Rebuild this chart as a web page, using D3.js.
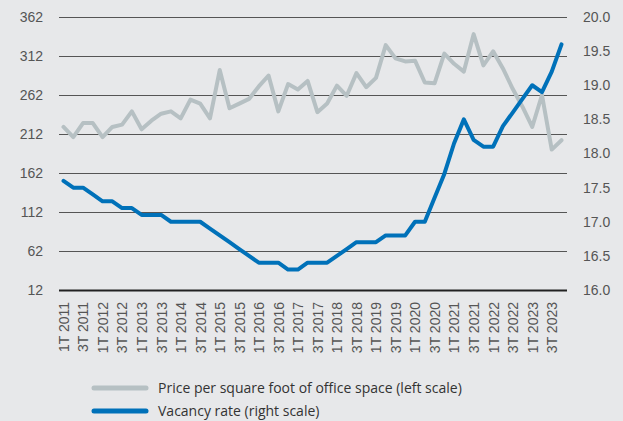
<!DOCTYPE html>
<html>
<head>
<meta charset="utf-8">
<script src="https://cdn.jsdelivr.net/npm/d3@7"></script>
<style>
  body { margin: 0; background: #e7e8ea; }
  svg { display: block; font-family: "Open Sans", sans-serif; }
  .axis text { fill: #555; font-size: 14px; }
  .legend text { fill: #333; font-size: 14px; }
</style>
</head>
<body>
<svg id="chart"></svg>
<script>
const WIDTH = 623;
const HEIGHT = 421;

// quarters 1T 2011 .. 4T 2023
const years = d3.range(2011, 2024);
const quarters = years.flatMap(y => [1, 2, 3, 4].map(q => `${q}T ${y}`));

// price per square foot (left scale)
const price = [
    221, 208, 226, 226, 208, 221, 224, 241, 218, 229, 238, 241, 232,
    256, 251, 232, 294, 245, 251, 257, 273, 287, 241, 276, 269, 280,
    240, 251, 274, 261, 290, 272, 284, 326, 309, 305, 306, 278, 277,
    315, 302, 292, 340, 300, 318, 296, 270, 247, 221, 262, 192, 204
];

// vacancy rate (right scale)
const vacancy = [
    17.6, 17.5, 17.5, 17.4, 17.3, 17.3, 17.2, 17.2, 17.1, 17.1, 17.1, 17.0, 17.0,
    17.0, 17.0, 16.9, 16.8, 16.7, 16.6, 16.5, 16.4, 16.4, 16.4, 16.3, 16.3, 16.4,
    16.4, 16.4, 16.5, 16.6, 16.7, 16.7, 16.7, 16.8, 16.8, 16.8, 17.0, 17.0, 17.35,
    17.7, 18.15, 18.5, 18.2, 18.1, 18.1, 18.4, 18.6, 18.8, 19.0, 18.9, 19.2, 19.6
];

const leftTicks = [12, 62, 112, 162, 212, 262, 312, 362];
const rightTicks = [16.0, 16.5, 17.0, 17.5, 18.0, 18.5, 19.0, 19.5, 20.0];
const xTicks = quarters.filter((d, i) => i % 2 === 0);

const seriesNames = [
    'Price per square foot of office space (left scale)',
    'Vacancy rate (right scale)'
];
const colors = ['#b6c0c3', '#0071b9'];

const margin = { top: 17, right: 56, bottom: 131, left: 59 };
const w = WIDTH - margin.left - margin.right;
const h = HEIGHT - margin.top - margin.bottom;

const svg = d3.select('#chart')
    .attr('width', WIDTH)
    .attr('height', HEIGHT);

const g = svg.append('g')
    .attr('transform', `translate(${margin.left},${margin.top})`);

const x = d3.scalePoint()
    .domain(quarters)
    .range([4.5, w - 5.5]);

const yLeft = d3.scaleLinear()
    .domain([12, 362])
    .range([h, 0]);

const yRight = d3.scaleLinear()
    .domain([16, 20])
    .range([h, 0]);

// gridlines + left labels
const leftAxis = g.append('g')
    .attr('class', 'axis')
    .call(d3.axisLeft(yLeft).tickValues(leftTicks).tickSize(-w).tickPadding(16).tickFormat(d3.format('d')));
leftAxis.select('.domain').remove();
leftAxis.selectAll('line')
    .attr('stroke', '#555')
    .attr('stroke-width', 1);
leftAxis.selectAll('.tick')
    .filter(d => d === 12)
    .select('line')
    .attr('stroke', '#222')
    .attr('stroke-width', 2);

const rightAxis = g.append('g')
    .attr('class', 'axis')
    .attr('transform', `translate(${w},0)`)
    .call(d3.axisRight(yRight).tickValues(rightTicks).tickSize(0).tickPadding(16).tickFormat(d3.format('.1f')));
rightAxis.select('.domain').remove();

const xAxis = g.append('g')
    .attr('class', 'axis')
    .attr('transform', `translate(0,${h})`)
    .call(d3.axisBottom(x).tickValues(xTicks).tickSize(0));
xAxis.select('.domain').remove();
xAxis.selectAll('text')
    .attr('transform', 'rotate(-90)')
    .attr('text-anchor', 'end')
    .attr('x', -12)
    .attr('y', 0)
    .attr('dy', '0.35em');

const lineLeft = d3.line()
    .x((d, i) => x(quarters[i]))
    .y(d => yLeft(d));

const lineRight = d3.line()
    .x((d, i) => x(quarters[i]))
    .y(d => yRight(d));

g.append('path')
    .datum(price)
    .attr('fill', 'none')
    .attr('stroke', colors[0])
    .attr('stroke-width', 4)
    .attr('stroke-linejoin', 'round')
    .attr('stroke-linecap', 'round')
    .attr('d', lineLeft);

g.append('path')
    .datum(vacancy)
    .attr('fill', 'none')
    .attr('stroke', colors[1])
    .attr('stroke-width', 4)
    .attr('stroke-linejoin', 'round')
    .attr('stroke-linecap', 'round')
    .attr('d', lineRight);

// legend
const legend = svg.append('g')
    .attr('class', 'legend')
    .attr('transform', 'translate(92,388)');

const item = legend.selectAll('g')
    .data(seriesNames)
    .enter().append('g')
    .attr('transform', (d, i) => `translate(0,${i * 23})`);

item.append('line')
    .attr('x1', 2).attr('x2', 54)
    .attr('stroke', (d, i) => colors[i])
    .attr('stroke-width', 5)
    .attr('stroke-linecap', 'round');

item.append('text')
    .attr('x', 66)
    .attr('dy', '0.35em')
    .text(d => d);
</script>
</body>
</html>
